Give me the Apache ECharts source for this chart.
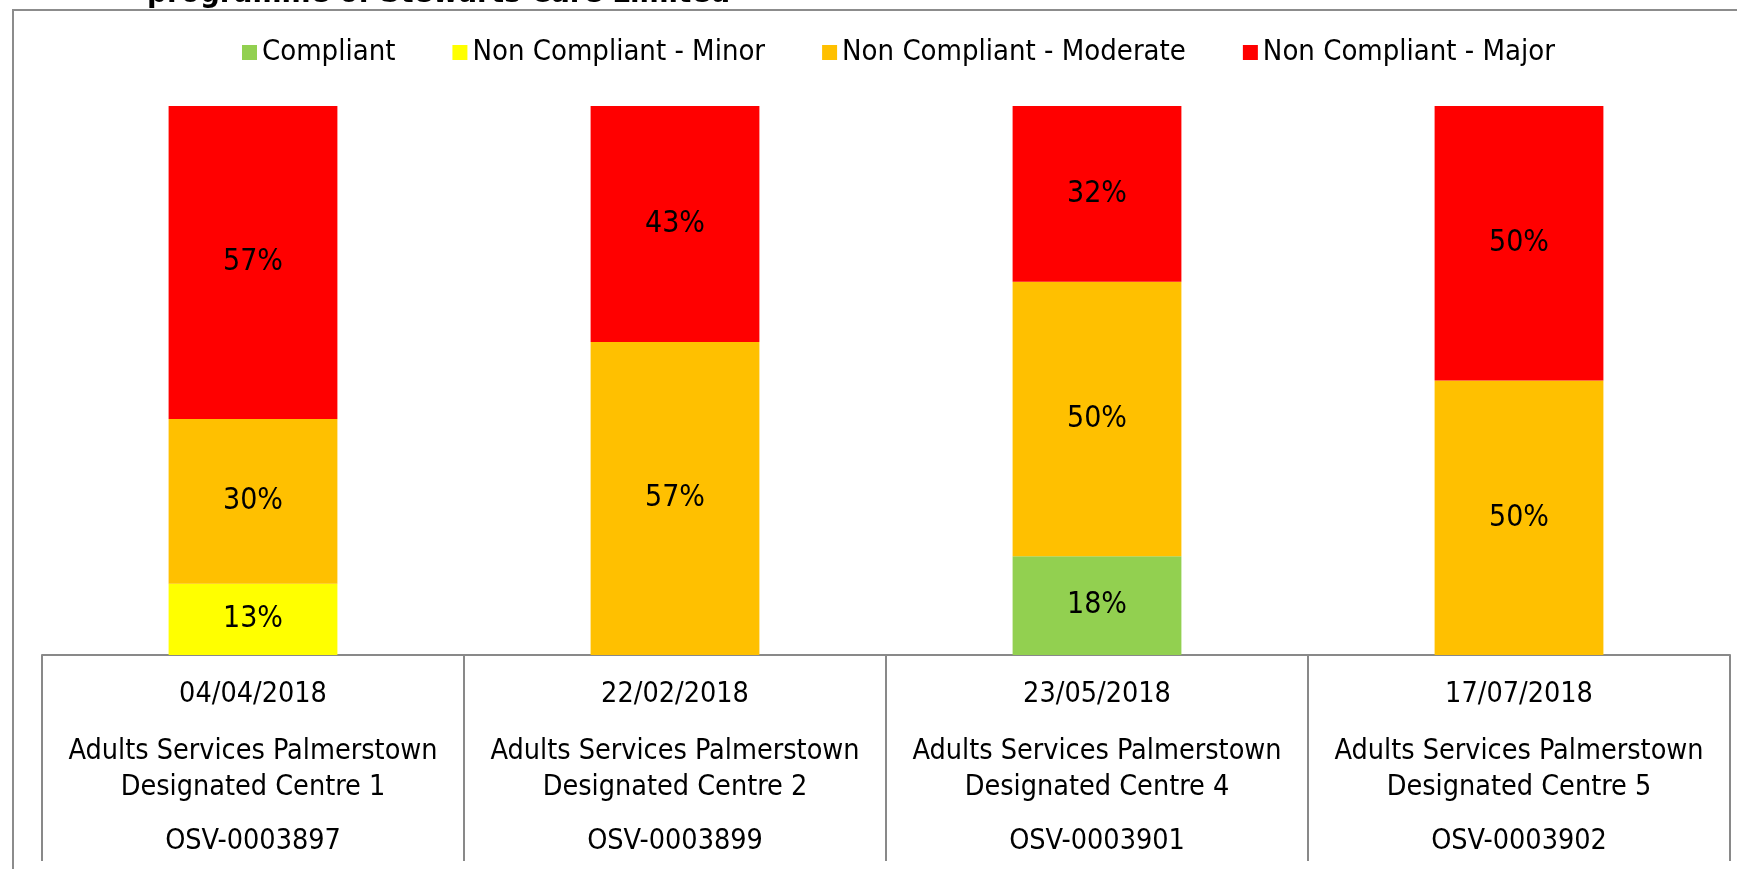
<!DOCTYPE html>
<html>
<head>
<meta charset="utf-8">
<script src="https://cdn.jsdelivr.net/npm/echarts@6/dist/echarts.min.js"></script>
<style>
  html, body { margin: 0; padding: 0; background: #fff; }
  #chart { width: 1737px; height: 869px; }
</style>
</head>
<body>
<div id="chart"></div>
<script>
const inspectionDates = ['04/04/2018', '22/02/2018', '23/05/2018', '17/07/2018']
const centreNames = [
  ['Adults Services Palmerstown', 'Designated Centre 1'],
  ['Adults Services Palmerstown', 'Designated Centre 2'],
  ['Adults Services Palmerstown', 'Designated Centre 4'],
  ['Adults Services Palmerstown', 'Designated Centre 5'],
]
const osvIds = ['OSV-0003897', 'OSV-0003899', 'OSV-0003901', 'OSV-0003902']

const compliant = [null, null, 18, null]
const minor = [13, null, null, null]
const moderate = [30, 57, 50, 50]
const major = [57, 43, 32, 50]

const FONT = '"DejaVu Sans Condensed", "DejaVu Sans", sans-serif'

const categories = inspectionDates.map((d, i) => i)

function makeSeries(name, data, color) {
  return {
    name,
    type: 'bar',
    stack: 'total',
    barCategoryGap: '60%',
    data,
    itemStyle: { color },
    label: {
      show: true,
      position: 'inside',
      formatter: '{c}%',
      color: '#000',
      fontFamily: FONT,
      fontSize: 30,
    },
  }
}

const chart = echarts.init(document.getElementById('chart'))
chart.setOption({
  animation: false,
  textStyle: { fontFamily: FONT },
  graphic: [
    {
      type: 'rect',
      shape: { x: 13, y: 10, width: 1800, height: 900 },
      style: { fill: 'none', stroke: '#8c8c8c', lineWidth: 2 },
      z: 0,
    },
    {
      type: 'text',
      style: {
        text: 'programme of Stewarts Care Limited',
        x: 147,
        y: -6,
        font: 'bold 31px ' + FONT,
        fill: '#000',
        verticalAlign: 'middle',
      },
    },
  ],
  legend: {
    top: 33,
    left: 237,
    itemWidth: 15,
    itemHeight: 15,
    itemGap: 57,
    textStyle: { fontFamily: FONT, fontSize: 29, color: '#000' },
    data: [
      { name: 'Compliant', icon: 'rect' },
      { name: 'Non Compliant - Minor', icon: 'rect' },
      { name: 'Non Compliant - Moderate', icon: 'rect' },
      { name: 'Non Compliant - Major', icon: 'rect' },
    ],
  },
  grid: { left: 42, right: 7, top: 106, bottom: 214 },
  xAxis: {
    type: 'category',
    data: categories,
    axisLine: { lineStyle: { color: '#898989', width: 2 } },
    axisTick: {
      show: true,
      interval: 0,
      length: 206,
      lineStyle: { color: '#898989', width: 2 },
    },
    axisLabel: {
      interval: 0,
      margin: 1,
      formatter: (v, i) =>
        '{d|' + inspectionDates[i] + '}\n' +
        '{n|' + centreNames[i][0] + '}\n' +
        '{n|' + centreNames[i][1] + '}\n' +
        '{o|' + osvIds[i] + '}',
      rich: {
        d: { fontFamily: FONT, fontSize: 28.5, color: '#000', lineHeight: 78 },
        n: { fontFamily: FONT, fontSize: 28.5, color: '#000', lineHeight: 36 },
        o: { fontFamily: FONT, fontSize: 28.5, color: '#000', lineHeight: 72 },
      },
    },
  },
  yAxis: {
    type: 'value',
    min: 0,
    max: 100,
    show: false,
  },
  series: [
    makeSeries('Compliant', compliant, '#92D050'),
    makeSeries('Non Compliant - Minor', minor, '#FFFF00'),
    makeSeries('Non Compliant - Moderate', moderate, '#FFC000'),
    makeSeries('Non Compliant - Major', major, '#FF0000'),
  ],
})
</script>
</body>
</html>
